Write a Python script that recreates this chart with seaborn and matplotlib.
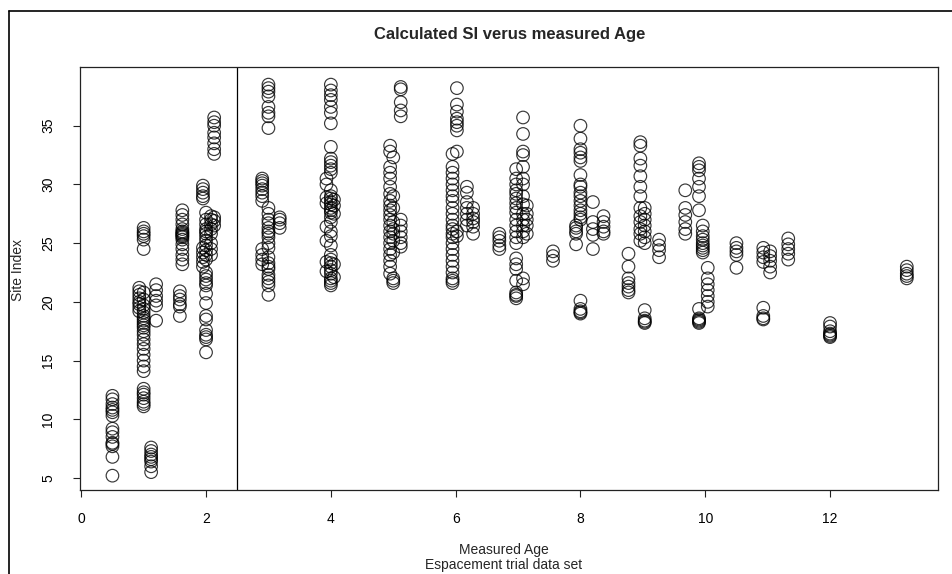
import numpy as np
import pandas as pd
import matplotlib
matplotlib.use("Agg")
import matplotlib.pyplot as plt
from matplotlib.lines import Line2D
import seaborn as sns

# ---- data: measured age (columns) and site index values ----
si_a050 = [12.0, 11.7, 11.3, 11.0, 10.8, 10.6, 10.3, 9.2, 8.9, 8.5, 8.0, 7.9, 7.7, 6.8, 5.2]
si_a093 = [21.2, 20.9, 20.6, 20.3, 20.0, 19.8, 19.5, 19.2]
si_a100 = [26.3, 26.0, 25.8, 25.6, 25.3, 24.5, 20.8, 20.2, 19.7, 19.4, 19.1, 18.8, 18.6,
           18.4, 18.2, 18.0, 17.8, 17.5, 17.2, 16.8, 16.4, 16.0, 15.5, 15.0, 14.5, 14.1,
           12.6, 12.3, 12.1, 11.8, 11.5, 11.3, 11.1]
si_a112 = [7.6, 7.3, 7.0, 6.8, 6.6, 6.4, 6.0, 5.5]
si_a120 = [21.5, 21.0, 20.5, 20.1, 19.7, 18.4]
si_a158 = [20.9, 20.5, 20.2, 19.8, 19.6, 18.8]
si_a162 = [27.8, 27.4, 27.0, 26.6, 26.2, 26.0, 25.9, 25.8, 25.7, 25.6, 25.5, 25.3, 24.9,
           24.5, 24.0, 23.6, 23.2]
si_a195 = [29.9, 29.6, 29.3, 29.0, 28.8, 24.6, 24.2, 23.8, 23.4, 23.0]
si_a200 = [27.6, 27.0, 26.6, 26.2, 26.0, 25.8, 25.5, 25.2, 24.8, 24.4, 24.0, 23.6, 22.5,
           22.2, 21.9, 21.6, 21.4, 20.7, 19.9, 18.8, 18.5, 17.6, 17.2, 17.0, 16.8, 15.7]
si_a208 = [27.3, 27.0, 26.6, 26.2, 25.8, 25.0, 24.5, 24.0]
si_a213 = [35.7, 35.3, 35.0, 34.4, 34.0, 33.5, 33.0, 32.6, 27.2, 26.9, 26.5]
si_a290 = [30.5, 30.3, 30.1, 29.9, 29.6, 29.3, 29.0, 28.6, 24.5, 24.0, 23.6, 23.2]
si_a300 = [38.5, 38.2, 37.9, 37.5, 36.6, 36.1, 35.8, 34.8, 28.0, 27.5, 27.0, 26.7, 26.3,
           26.0, 25.8, 25.5, 25.0, 24.6, 23.8, 23.3, 23.0, 22.8, 22.3, 22.0, 21.7, 21.4, 20.6]
si_a318 = [27.2, 27.0, 26.7, 26.3]
si_a393 = [30.5, 30.0, 28.9, 28.4, 26.4, 25.2, 23.4, 22.6]
si_a400 = [38.5, 38.0, 37.6, 37.2, 36.6, 36.1, 35.2, 33.2, 32.2, 31.9, 31.6, 31.3, 31.0,
           29.5, 29.0, 28.8, 28.5, 28.3, 28.0, 27.8, 27.6, 27.2, 26.8, 26.0, 25.6, 24.8,
           24.0, 23.6, 23.3, 23.0, 22.7, 22.4, 22.0, 21.8, 21.6, 21.4]
si_a405 = [28.7, 28.2, 27.5, 23.2, 22.1]
si_a495 = [33.3, 32.8, 31.5, 31.0, 30.5, 29.8, 29.2, 28.6, 28.2, 27.8, 27.4, 27.0, 26.5,
           26.0, 25.5, 25.0, 24.5, 24.0, 23.5, 23.0, 22.4]
si_a500 = [32.3, 29.0, 28.0, 26.8, 26.2, 25.8, 25.2, 24.2, 22.0, 21.8, 21.6]
si_a512 = [38.3, 38.1, 37.0, 36.3, 35.8, 27.0, 26.5, 26.0, 25.5, 25.0, 24.7]
si_a595 = [32.6, 31.5, 31.0, 30.5, 30.0, 29.5, 29.0, 28.6, 28.0, 27.5, 27.0, 26.5, 26.2,
           25.8, 25.5, 25.0, 24.5, 24.0, 23.5, 23.0, 22.5, 22.0, 21.8, 21.6]
si_a602 = [38.2, 36.8, 36.2, 35.6, 35.3, 35.0, 34.6, 32.8, 26.0, 25.6]
si_a618 = [29.8, 29.3, 28.5, 28.0, 27.5, 27.0, 26.5]
si_a628 = [28.0, 27.5, 27.1, 26.8, 26.4, 25.8]
si_a670 = [25.8, 25.5, 25.2, 24.8, 24.5]
si_a697 = [31.3, 30.5, 30.0, 29.5, 29.2, 28.8, 28.4, 28.0, 27.6, 27.0, 26.5, 26.0, 25.5,
           25.0, 23.7, 23.2, 22.8, 21.8, 20.8, 20.6, 20.5, 20.3]
si_a708 = [35.7, 34.3, 32.8, 32.5, 31.5, 30.5, 30.0, 29.0, 28.3, 27.5, 27.0, 26.5, 26.0,
           25.5, 22.0, 21.5]
si_a714 = [28.2, 27.5, 27.0, 26.5, 25.8]
si_a756 = [24.3, 23.9, 23.5]
si_a793 = [26.5, 26.3, 26.0, 25.8, 24.9]
si_a800 = [35.0, 33.9, 33.0, 32.7, 32.3, 32.0, 30.8, 30.0, 29.8, 29.3, 29.0, 28.6, 28.2,
           27.8, 27.5, 27.2, 27.0, 20.1, 19.4, 19.2, 19.1, 19.0]
si_a820 = [28.5, 26.8, 26.2, 25.7, 24.5]
si_a837 = [27.3, 26.8, 26.4, 26.0, 25.8]
si_a877 = [24.1, 23.0, 22.0, 21.6, 21.3, 21.0, 20.8]
si_a896 = [33.6, 33.3, 32.2, 31.6, 30.7, 29.8, 29.0, 28.0, 27.3, 26.8, 26.2, 25.8, 25.2]
si_a903 = [28.0, 27.5, 27.0, 26.5, 26.0, 25.5, 25.0, 19.3, 18.6, 18.4, 18.3, 18.2]
si_a926 = [25.3, 24.8, 24.4, 23.8]
si_a968 = [29.5, 28.0, 27.4, 26.8, 26.2, 25.8]
si_a990 = [31.8, 31.5, 31.2, 30.5, 29.8, 29.0, 27.8, 19.4, 18.6, 18.5, 18.4, 18.3, 18.2]
si_a996 = [26.5, 26.0, 25.6, 25.3, 25.0, 24.8, 24.6, 24.4, 24.2]
si_a1004 = [22.9, 22.0, 21.5, 21.0, 20.5, 20.0, 19.6]
si_a1050 = [25.0, 24.6, 24.3, 24.0, 22.9]
si_a1093 = [24.6, 24.2, 23.8, 23.4, 19.5, 18.8, 18.6, 18.5]
si_a1104 = [24.3, 23.9, 23.5, 23.0, 22.5]
si_a1133 = [25.4, 24.9, 24.5, 24.1, 23.6]
si_a1200 = [18.2, 17.9, 17.5, 17.3, 17.2, 17.1, 17.0]
si_a1323 = [23.0, 22.7, 22.4, 22.2, 22.0]

ages = [0.50, 0.93, 1.00, 1.12, 1.20, 1.58, 1.62, 1.95, 2.00, 2.08, 2.13,
        2.90, 3.00, 3.18, 3.93, 4.00, 4.05, 4.95, 5.00, 5.12, 5.95, 6.02,
        6.18, 6.28, 6.70, 6.97, 7.08, 7.14, 7.56, 7.93, 8.00, 8.20, 8.37,
        8.77, 8.96, 9.03, 9.26, 9.68, 9.90, 9.96, 10.04, 10.50, 10.93,
        11.04, 11.33, 12.00, 13.23]
si_lists = [si_a050, si_a093, si_a100, si_a112, si_a120, si_a158, si_a162, si_a195,
            si_a200, si_a208, si_a213, si_a290, si_a300, si_a318, si_a393, si_a400,
            si_a405, si_a495, si_a500, si_a512, si_a595, si_a602, si_a618, si_a628,
            si_a670, si_a697, si_a708, si_a714, si_a756, si_a793, si_a800, si_a820,
            si_a837, si_a877, si_a896, si_a903, si_a926, si_a968, si_a990, si_a996,
            si_a1004, si_a1050, si_a1093, si_a1104, si_a1133, si_a1200, si_a1323]

x_ticks = [0, 2, 4, 6, 8, 10, 12]
y_ticks = [5, 10, 15, 20, 25, 30, 35]
split_age = 2.5

rows_age, rows_si = [], []
for a, vals in zip(ages, si_lists):
    rows_age += [a] * len(vals)
    rows_si += vals
df = pd.DataFrame({"Measured Age": rows_age, "Site Index": rows_si})

# ---- style ----
sns.set_theme(style="white")
plt.rcParams["font.family"] = ["Liberation Sans", "DejaVu Sans"]

W, H = 952, 574
fig = plt.figure(figsize=(W / 100, H / 100), dpi=100)
L, R, T, B = 80, 938, 67, 490
ax = fig.add_axes([L / W, 1 - B / H, (R - L) / W, (B - T) / H])

sns.scatterplot(data=df, x="Measured Age", y="Site Index", ax=ax,
                marker="o", s=82, facecolor="none", edgecolor="black",
                linewidth=0.85, alpha=0.78)

ax.axvline(split_age, color="black", lw=0.9)

ax.set_xlim(-0.02, 13.73)
ax.set_ylim(3.98, 40.0)
ax.set_xticks(x_ticks)
ax.set_yticks(y_ticks)
ax.tick_params(axis="both", direction="out", length=5, width=0.8, color="#222222",
               labelsize=10, labelcolor="black", bottom=True, left=True)
ax.tick_params(axis="x", pad=11)
ax.tick_params(axis="y", pad=18)
for lab in ax.get_yticklabels():
    lab.set_rotation(90)
    lab.set_va("center")
    lab.set_ha("center")

for sp in ax.spines.values():
    sp.set_visible(True)
    sp.set_color("#222222")
    sp.set_linewidth(0.9)

ax.set_xlabel("Measured Age\nEspacement trial data set", fontsize=10, linespacing=1.1)
ax.xaxis.set_label_coords((504 - L) / (R - L), -(543 - B) / (B - T))
ax.set_ylabel("Site Index", fontsize=10)
ax.yaxis.set_label_coords(-(80 - 25) / (R - L), (B - 270) / (B - T))

fig.text(510 / W, 1 - 35 / H, "Calculated SI verus measured Age",
         ha="center", va="center", fontsize=12, fontweight="bold")

# outer frame lines (left and top)
fig.add_artist(Line2D([9 / W, 9 / W], [0, 1 - 11 / H], transform=fig.transFigure,
                      color="black", lw=1.2))
fig.add_artist(Line2D([9 / W, 1], [1 - 11 / H, 1 - 11 / H], transform=fig.transFigure,
                      color="black", lw=1.2))

fig.savefig("out.png", dpi=100)
